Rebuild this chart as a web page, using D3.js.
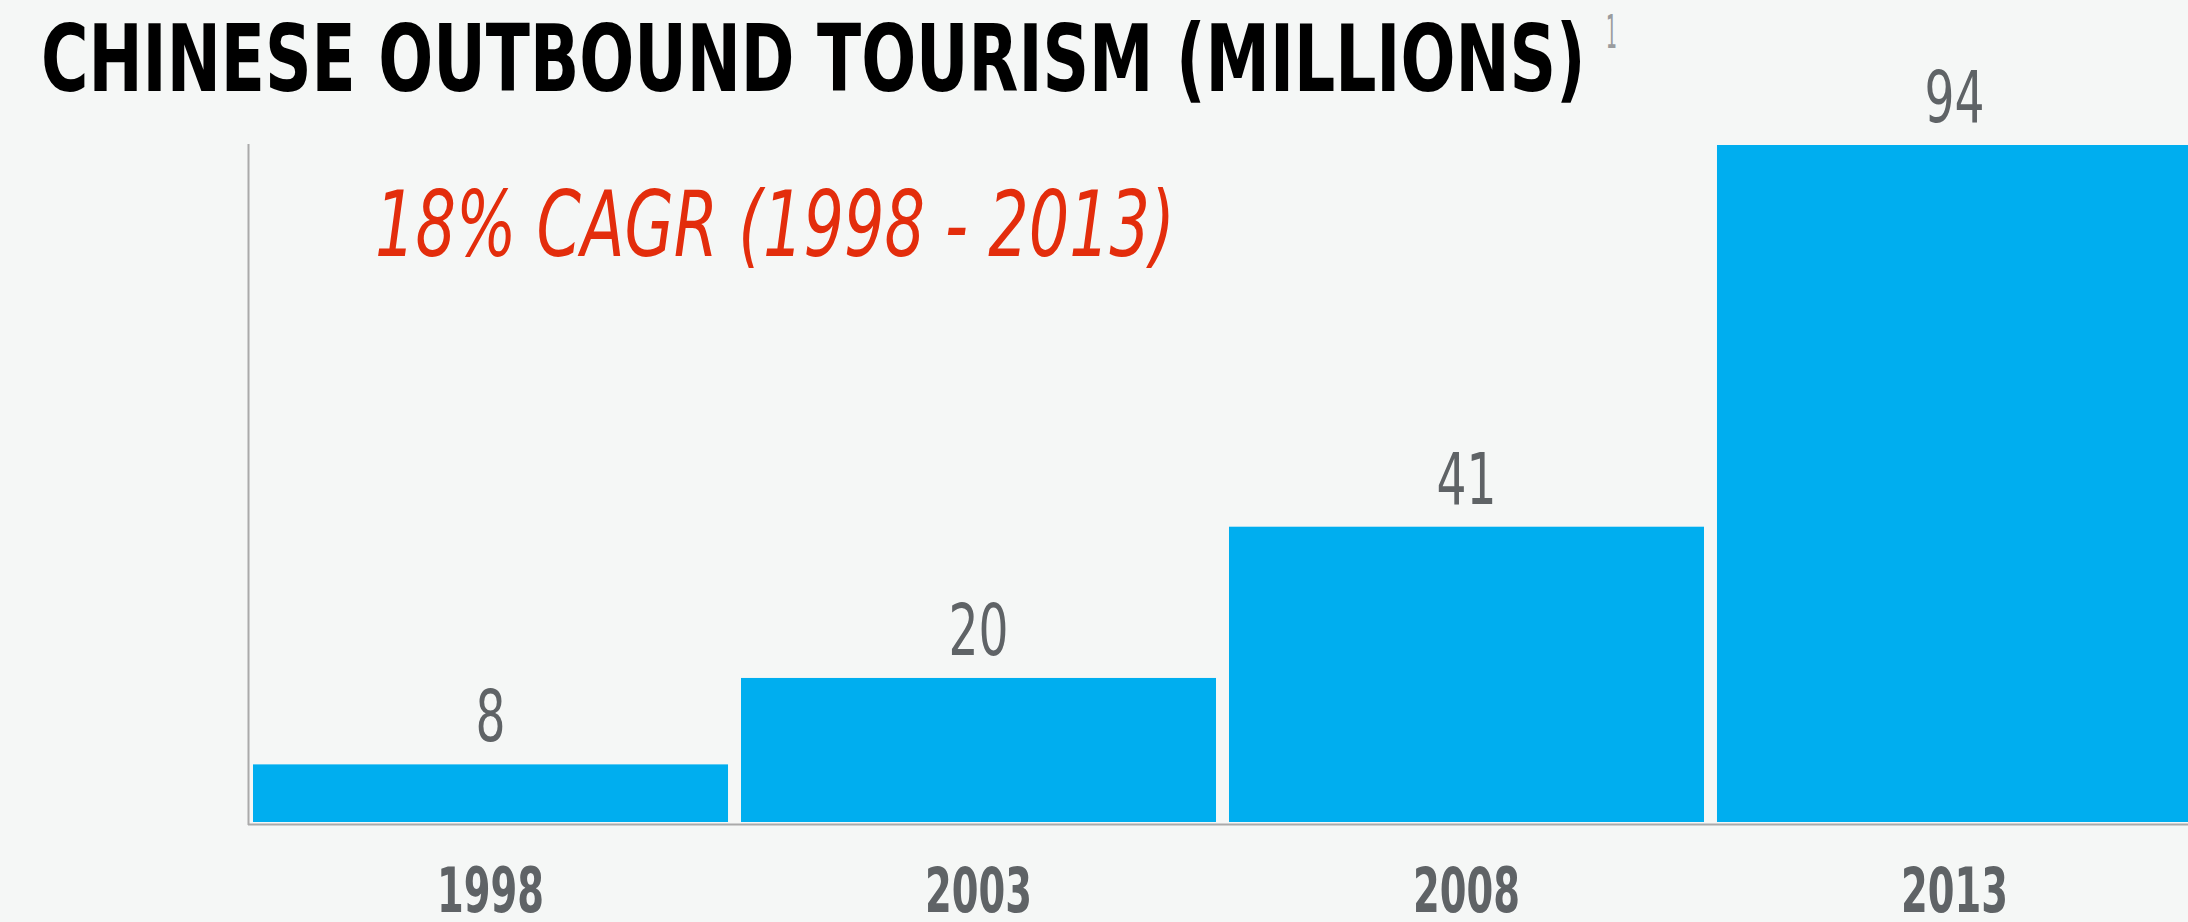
<!DOCTYPE html>
<html>
<head>
<meta charset="utf-8">
<script src="https://cdn.jsdelivr.net/npm/d3@7"></script>
<style>
  html, body { margin: 0; padding: 0; background: #f5f7f6; }
  svg { display: block; }
  text { font-family: "Liberation Sans Narrow", "DejaVu Sans Condensed", sans-serif; }
</style>
</head>
<body>
<svg id="chart" width="2188" height="922"></svg>
<script>
var years = ["1998", "2003", "2008", "2013"];
var tourists = [8, 20, 41, 94];
var titleText = "CHINESE OUTBOUND TOURISM (MILLIONS)";
var noteText = "18% CAGR (1998 - 2013)";

var svg = d3.select("#chart");
var W = 2188, H = 922;

svg.append("rect").attr("width", W).attr("height", H).attr("fill", "#f5f7f6");

// squeeze a text horizontally to a given width, around its anchor point
function squeeze(sel, width, tx, ty) {
  sel.each(function() {
    var w = this.getComputedTextLength();
    var s = width / w;
    d3.select(this).attr("x", 0).attr("y", 0)
      .attr("transform", "translate(" + tx + "," + ty + ") scale(" + s + ",1)");
  });
}

var x = d3.scaleBand()
    .domain(years)
    .range([253, 2192])
    .paddingInner(0.0266)
    .paddingOuter(0);

var y = d3.scaleLinear()
    .domain([0, 94])
    .range([822, 145]);

// title
svg.append("text")
    .attr("font-size", 93)
    .attr("font-weight", "bold")
    .attr("fill", "#000")
    .text(titleText)
    .call(squeeze, 1545, 41, 91);

svg.append("text")
    .attr("font-size", 47)
    .attr("fill", "#9a9c9e")
    .text("1")
    .call(squeeze, 11, 1606, 48);

// bars
svg.append("g").selectAll("rect")
    .data(tourists)
    .join("rect")
    .attr("x", function(d, i) { return x(years[i]); })
    .attr("y", function(d) { return y(d); })
    .attr("width", x.bandwidth())
    .attr("height", function(d) { return y(0) - y(d); })
    .attr("fill", "#00aeef");

// value labels
svg.append("g").selectAll("text")
    .data(tourists)
    .join("text")
    .attr("text-anchor", "middle")
    .attr("font-size", 71)
    .attr("fill", "#5f6366")
    .text(function(d) { return d; })
    .each(function(d, i) {
      d3.select(this).call(squeeze, 30 * String(d).length,
        x(years[i]) + x.bandwidth() / 2, y(d) - 23);
    });

// axes
svg.append("line")
    .attr("x1", 248.5).attr("x2", 248.5)
    .attr("y1", 144).attr("y2", 825)
    .attr("stroke", "#aaaaaa").attr("stroke-width", 2);

var xAxis = svg.append("g")
    .attr("transform", "translate(0,824)")
    .call(d3.axisBottom(x).tickSize(0).tickPadding(0));

xAxis.select(".domain")
    .attr("d", "M248,0.5H" + W)
    .attr("stroke", "#aaaaaa").attr("stroke-width", 2);

xAxis.selectAll(".tick text")
    .attr("dy", null)
    .attr("font-size", 63)
    .attr("font-weight", "bold")
    .attr("font-family", "'Liberation Sans Narrow', 'DejaVu Sans Condensed', sans-serif")
    .attr("fill", "#5f6366")
    .call(squeeze, 107, 0, 88);

// CAGR note
svg.append("text")
    .attr("font-size", 90)
    .attr("font-style", "italic")
    .attr("fill", "#e32d0c")
    .text(noteText)
    .call(squeeze, 800, 375, 256);
</script>
</body>
</html>
